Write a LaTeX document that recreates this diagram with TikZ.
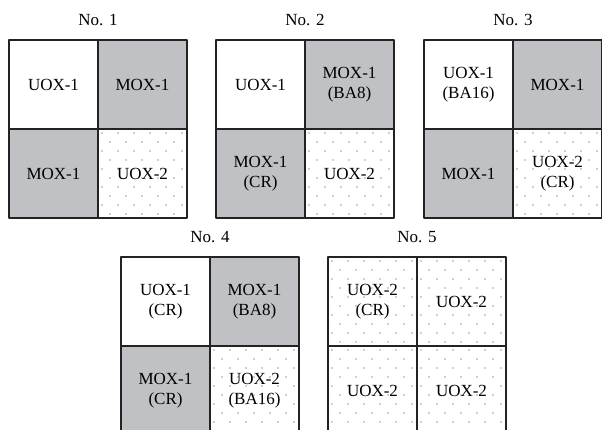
\documentclass[tikz,border=0pt]{standalone}
\usepackage{fontspec}
\setmainfont{Liberation Serif}
\usetikzlibrary{positioning}

\definecolor{moxgray}{RGB}{192,193,196}
\definecolor{dotgray}{RGB}{160,160,160}
\definecolor{edgecol}{RGB}{35,35,35}

\tikzset{
	cell/.style={minimum size=89pt, inner sep=0pt, outer sep=0pt,
		align=center, font=\fontsize{17}{20}\selectfont},
	uoxone/.style={cell, fill=white},
	moxone/.style={cell, fill=moxgray},
	uoxtwo/.style={cell, fill=white,
		path picture={
			\foreach \r [evaluate=\r as \off using {mod(\r,2)*8}] in {0,...,9}
				\foreach \c in {0,...,5}
					\fill[dotgray] ([xshift={(\c*16+\off+4)*1pt}, yshift={-(\r*9+4)*1pt}]path picture bounding box.north west) circle (0.8pt);
		}},
	grid/.style={draw=edgecol, line width=2pt},
	title/.style={font=\fontsize{17}{20}\selectfont, anchor=base, inner sep=0pt},
}

\begin{document}
\begin{tikzpicture}[x=1pt, y=-1pt, line join=round]
	\useasboundingbox (0,0) rectangle (602,430);
	\clip (0,0) rectangle (602,430);
	% No. 1
	\node[uoxone, anchor=north west] (n1ul) at (9,40) {UOX-1};
	\node[moxone, right=0pt of n1ul] (n1ur) {MOX-1};
	\node[moxone, below=0pt of n1ul] (n1ll) {MOX-1};
	\node[uoxtwo, right=0pt of n1ll] (n1lr) {UOX-2};
	\node[title] (t1) at (n1ul.north east |- 0,26) {No. 1};
	% No. 2
	\node[uoxone, anchor=north west] (n2ul) at (216,40) {UOX-1};
	\node[moxone, right=0pt of n2ul] (n2ur) {MOX-1\\(BA8)};
	\node[moxone, below=0pt of n2ul] (n2ll) {MOX-1\\(CR)};
	\node[uoxtwo, right=0pt of n2ll] (n2lr) {UOX-2};
	\node[title] (t2) at (n2ul.north east |- 0,26) {No. 2};
	% No. 3
	\node[uoxone, anchor=north west] (n3ul) at (424,40) {UOX-1\\(BA16)};
	\node[moxone, right=0pt of n3ul] (n3ur) {MOX-1};
	\node[moxone, below=0pt of n3ul] (n3ll) {MOX-1};
	\node[uoxtwo, right=0pt of n3ll] (n3lr) {UOX-2\\(CR)};
	\node[title] (t3) at (n3ul.north east |- 0,26) {No. 3};
	% No. 4
	\node[uoxone, anchor=north west] (n4ul) at (121,257) {UOX-1\\(CR)};
	\node[moxone, right=0pt of n4ul] (n4ur) {MOX-1\\(BA8)};
	\node[moxone, below=0pt of n4ul] (n4ll) {MOX-1\\(CR)};
	\node[uoxtwo, right=0pt of n4ll] (n4lr) {UOX-2\\(BA16)};
	\node[title] (t4) at (n4ul.north east |- 0,243) {No. 4};
	% No. 5
	\node[uoxtwo, anchor=north west] (n5ul) at (328,257) {UOX-2\\(CR)};
	\node[uoxtwo, right=0pt of n5ul] (n5ur) {UOX-2};
	\node[uoxtwo, below=0pt of n5ul] (n5ll) {UOX-2};
	\node[uoxtwo, right=0pt of n5ll] (n5lr) {UOX-2};
	\node[title] (t5) at (n5ul.north east |- 0,243) {No. 5};
	% frames and cross lines
	\foreach \n in {1,...,5}{
		\draw[grid] (n\n ul.north west) rectangle (n\n lr.south east);
		\draw[grid] (n\n ul.north east) -- (n\n lr.south west);
		\draw[grid] (n\n ul.south west) -- (n\n lr.north east);
	}
\end{tikzpicture}
\end{document}
